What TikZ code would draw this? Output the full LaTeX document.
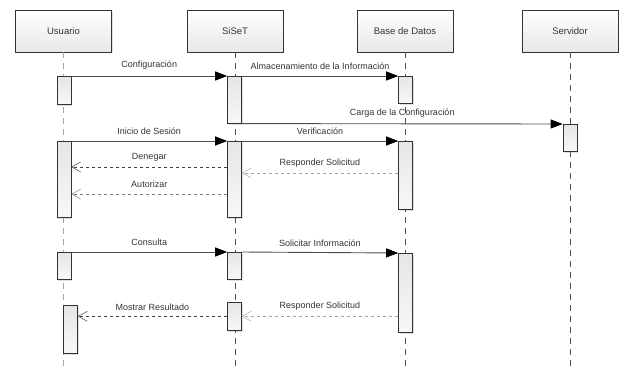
\documentclass[tikz,border=0pt]{standalone}
\usepackage{fontspec}
\setmainfont{Liberation Sans}
\usepackage{xcolor}
\usetikzlibrary{arrows.meta,shadows}

\definecolor{txtgray}{HTML}{333333}
\definecolor{linegray}{HTML}{4d4d4d}

\begin{document}
\begin{tikzpicture}[
  x=1pt, y=-1pt,
  font=\fontsize{9}{10}\selectfont, text=txtgray,
  actor/.style={
    draw=black!80, top color=white, bottom color=black!9,
    minimum width=96pt, minimum height=42pt, inner sep=0pt,
    font=\fontsize{9.5}{11}\selectfont, line width=0.6pt,
    drop shadow={shadow xshift=1.3pt, shadow yshift=-1.3pt, opacity=0.25}
  },
  bar/.style={
    draw=black!80, top color=black!10, bottom color=white!97!black,
    minimum width=14pt, inner sep=0pt, anchor=north, line width=0.6pt,
    drop shadow={shadow xshift=1.2pt, shadow yshift=-1.2pt, opacity=0.25}
  },
  lifeline/.style={linegray, dash pattern=on 6pt off 5pt},
  call/.style={-{Triangle[length=12pt, width=9pt, color=black]}, linegray, line width=0.9pt},
  reply/.style={-{Straight Barb[length=9pt, width=10pt, line width=0.5pt]}, black!75, dashed, line width=0.6pt},
  softreply/.style={reply, black!35},
  msg/.style={above=2.5pt, text=txtgray}
]
\useasboundingbox (0,0) rectangle (621,372);

\node[actor] (usr) at (63.5,31) {Usuario};
\node[actor] (siset) at (235,31) {SiSeT};
\node[actor] (bd) at (405,31) {Base de Datos};
\node[actor] (srv) at (570,31) {Servidor};

\coordinate (bottom) at (0,368);
\draw[lifeline, black!35] (usr.south) -- (usr.south |- bottom);
\draw[lifeline] (siset.south) -- (siset.south |- bottom);
\draw[lifeline] (bd.south) -- (bd.south |- bottom);
\draw[lifeline] (srv.south) -- (srv.south |- bottom);

\node[bar, minimum height=28] (u1) at (64,76) {};
\node[bar, minimum height=47] (s1) at (234.5,76) {};
\node[bar, minimum height=27] (d1) at (405.5,76) {};
\node[bar, minimum height=27] (v1) at (570,124) {};
\node[bar, minimum height=76] (u2) at (64,141) {};
\node[bar, minimum height=76] (s2) at (234.5,141) {};
\node[bar, minimum height=68] (d2) at (405.5,141) {};
\node[bar, minimum height=27] (u3) at (64,252) {};
\node[bar, minimum height=27] (s3) at (234.5,252) {};
\node[bar, minimum height=79] (d3) at (405.5,253) {};
\node[bar, minimum height=48] (u4) at (70.5,305) {};
\node[bar, minimum height=28] (s4) at (234.5,302) {};

\coordinate (yden) at (0,167);
\coordinate (yresp) at (0,173);
\coordinate (yaut) at (0,194);

\draw[call] (u1.north east) -- node[msg] {Configuración} (s1.north west);
\draw[call] (s1.north east) -- node[msg] {Almacenamiento de la Información} (d1.north west);
\draw[call] (s1.south east) -- node[msg] {Carga de la Configuración} (v1.north west);
\draw[call] (u2.north east) -- node[msg] {Inicio de Sesión} (s2.north west);
\draw[call] (s2.north east) -- node[msg] {Verificación} (d2.north west);
\draw[reply] (s2.west |- yden) -- node[msg] {Denegar} (u2.east |- yden);
\draw[softreply] (d2.west |- yresp) -- node[msg] {Responder Solicitud} (s2.east |- yresp);
\draw[reply, black!50] (s2.west |- yaut) -- node[msg] {Autorizar} (u2.east |- yaut);
\draw[call] (u3.north east) -- node[msg] {Consulta} (s3.north west);
\draw[call] (s3.north east) -- node[msg] {Solicitar Información} (d3.north west);
\draw[softreply] (d3.west |- s4.east) -- node[msg] {Responder Solicitud} (s4.east);
\draw[reply] (s4.west) -- node[msg] {Mostrar Resultado} (u4.east |- s4.west);
\end{tikzpicture}
\end{document}
